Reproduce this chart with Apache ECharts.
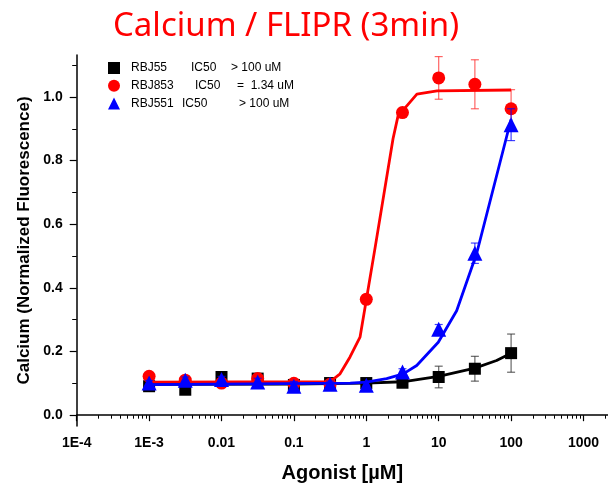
<!DOCTYPE html>
<html>
<head>
<meta charset="utf-8">
<script src="https://cdn.jsdelivr.net/npm/echarts@6/dist/echarts.min.js"></script>
<style>
  html, body { margin: 0; padding: 0; background: #fff; }
  #chart { width: 608px; height: 488px; }
</style>
</head>
<body>
<div id="chart"></div>
<script>
// agonist concentrations (uM)
const doses = [0.001, 0.00316, 0.01, 0.0316, 0.1, 0.316, 1, 3.16, 10, 31.6, 100];

// RBJ55 - mean and error
const rbj55Mean = [0.091, 0.080, 0.120, 0.115, 0.095, 0.101, 0.101, 0.102, 0.120, 0.146, 0.195];
const rbj55Err = [0.005, 0.005, 0.006, 0.006, 0.005, 0.006, 0.008, 0.015, 0.034, 0.039, 0.060];
// RBJ853
const rbj853Mean = [0.122, 0.110, 0.101, 0.115, 0.100, 0.097, 0.364, 0.951, 1.060, 1.040, 0.963];
const rbj853Err = [0.006, 0.006, 0.006, 0.006, 0.006, 0.008, 0.015, 0.010, 0.067, 0.077, 0.060];
// RBJ551
const rbj551Mean = [0.101, 0.110, 0.112, 0.104, 0.091, 0.097, 0.094, 0.136, 0.270, 0.509, 0.913];
const rbj551Err = [0.008, 0.010, 0.010, 0.012, 0.015, 0.010, 0.012, 0.010, 0.015, 0.032, 0.050];

// fitted curves
const fit55X = [0.001, 0.1, 1, 3.16, 10, 31.6, 63, 100];
const fit55Y = [0.097, 0.098, 0.101, 0.105, 0.122, 0.148, 0.172, 0.195];
const fit853X = [0.001, 0.316, 0.434, 0.596, 0.819, 1.32, 2.34, 2.74, 5.0, 9.5, 100];
const fit853Y = [0.104, 0.105, 0.130, 0.183, 0.245, 0.525, 0.869, 0.940, 1.009, 1.019, 1.022];
const fit551X = [0.001, 0.6, 1, 1.91, 3.24, 4.97, 9.87, 17.7, 33.5, 100];
const fit551Y = [0.096, 0.101, 0.104, 0.115, 0.130, 0.156, 0.229, 0.328, 0.509, 0.930];

// ticks
const xTickValues = [0.0001, 0.001, 0.01, 0.1, 1, 10, 100, 1000];
const xTickLabels = ['1E-4', '1E-3', '0.01', '0.1', '1', '10', '100', '1000'];
const yTickValues = [0, 0.2, 0.4, 0.6, 0.8, 1.0];
const yTickLabels = ['0.0', '0.2', '0.4', '0.6', '0.8', '1.0'];
const yMinorValues = [0.1, 0.3, 0.5, 0.7, 0.9, 1.1];

// legend text pieces
const legendNames = ['RBJ55', 'RBJ853', 'RBJ551'];
const legendIC50 = ['> 100 uM', '=  1.34 uM', '> 100 uM'];

const xMinorValues = [];
for (let d = -4; d <= 3; d++) {
  for (let k = 2; k <= 9; k++) {
    xMinorValues.push(k * Math.pow(10, d));
  }
}

const X_MIN = 0.0001, X_MAX = 2180;
const Y_MIN = -0.034, Y_MAX = 1.132;
const font = 'Liberation Sans';

function pairs(xs, ys) {
  return xs.map((x, i) => [x, ys[i]]);
}

function errorSeries(name, means, errs, color, z) {
  return {
    type: 'custom',
    name: name + ' err',
    z: z,
    data: doses.map((d, i) => [d, means[i] - errs[i], means[i] + errs[i]]),
    encode: { x: 0, y: [1, 2] },
    renderItem: function (params, api) {
      const lo = api.coord([api.value(0), api.value(1)]);
      const hi = api.coord([api.value(0), api.value(2)]);
      const w = 4;
      const style = { stroke: color, lineWidth: 1.2, opacity: 0.75 };
      return {
        type: 'group',
        children: [
          { type: 'line', shape: { x1: hi[0], y1: hi[1], x2: lo[0], y2: lo[1] }, style: style },
          { type: 'line', shape: { x1: hi[0] - w, y1: hi[1], x2: hi[0] + w, y2: hi[1] }, style: style },
          { type: 'line', shape: { x1: lo[0] - w, y1: lo[1], x2: lo[0] + w, y2: lo[1] }, style: style }
        ]
      };
    }
  };
}

function fitSeries(name, xs, ys, color, z) {
  return {
    type: 'line',
    name: name + ' fit',
    z: z,
    data: pairs(xs, ys),
    showSymbol: false,
    smooth: false,
    lineStyle: { color: color, width: 2.8 },
    silent: true
  };
}

function pointSeries(name, means, color, symbol, size, z) {
  return {
    type: 'scatter',
    name: name,
    z: z,
    data: pairs(doses, means),
    symbol: symbol,
    symbolSize: size,
    itemStyle: { color: color, opacity: 1 }
  };
}

const chart = echarts.init(document.getElementById('chart'), null, { renderer: 'canvas' });

const option = {
  animation: false,
  backgroundColor: '#fff',
  title: {
    text: 'Calcium / FLIPR (3min)',
    left: 113,
    top: 10,
    padding: 0,
    textStyle: { color: '#ff0000', fontSize: 33, fontWeight: 'normal', fontFamily: 'Noto Sans' }
  },
  legend: {
    orient: 'vertical',
    left: 103,
    top: 57,
    itemWidth: 12,
    itemHeight: 12,
    itemGap: 5.8,
    data: [
      { name: 'RBJ55', icon: 'rect' },
      { name: 'RBJ853', icon: 'circle' },
      { name: 'RBJ551', icon: 'triangle' }
    ],
    formatter: function (name) {
      const i = legendNames.indexOf(name);
      return '{p| }{n' + i + '|' + name + '}{i' + i + '|IC50}{v|' + legendIC50[i] + '}';
    },
    textStyle: {
      fontFamily: font,
      fontSize: 12,
      color: '#000',
      rich: {
        p: { width: 6, fontSize: 12, fontFamily: font },
        n0: { width: 60, fontSize: 12, fontFamily: font, color: '#000' },
        n1: { width: 64, fontSize: 12, fontFamily: font, color: '#000' },
        n2: { width: 51, fontSize: 12, fontFamily: font, color: '#000' },
        i0: { width: 40, fontSize: 12, fontFamily: font, color: '#000' },
        i1: { width: 42, fontSize: 12, fontFamily: font, color: '#000' },
        i2: { width: 57, fontSize: 12, fontFamily: font, color: '#000' },
        v: { fontSize: 12, fontFamily: font, color: '#000' }
      }
    }
  },
  grid: { left: 76.7, right: 0, top: 55, bottom: 58.7, containLabel: false },
  xAxis: [
    {
      type: 'log',
      logBase: 10,
      min: X_MIN,
      max: X_MAX,
      name: 'Agonist [µM]',
      nameLocation: 'middle',
      nameGap: 37,
      nameTextStyle: { fontFamily: font, fontSize: 20, fontWeight: 'bold', color: '#000' },
      axisLine: { lineStyle: { color: '#000', width: 1.5 } },
      axisTick: { customValues: xTickValues, length: 6, lineStyle: { color: '#000', width: 1.2 } },
      axisLabel: {
        customValues: xTickValues,
        margin: 10,
        fontFamily: font,
        fontSize: 14,
        fontWeight: 'bold',
        color: '#000',
        formatter: function (v) {
          const i = xTickValues.findIndex(t => Math.abs(Math.log10(t) - Math.log10(v)) < 1e-6);
          return i >= 0 ? xTickLabels[i] : '';
        }
      },
      splitLine: { show: false }
    },
    {
      type: 'log',
      logBase: 10,
      min: X_MIN,
      max: X_MAX,
      gridIndex: 0,
      position: 'bottom',
      axisLine: { show: false },
      axisTick: { customValues: xMinorValues, length: 3.5, lineStyle: { color: '#000', width: 1 } },
      axisLabel: { show: false },
      splitLine: { show: false }
    }
  ],
  yAxis: [
    {
      type: 'value',
      min: Y_MIN,
      max: Y_MAX,
      name: 'Calcium (Normalized Fluorescence)',
      nameLocation: 'middle',
      nameGap: 44,
      nameTextStyle: { fontFamily: font, fontSize: 17, fontWeight: 'bold', color: '#000' },
      axisLine: { show: true, lineStyle: { color: '#000', width: 1.5 } },
      axisTick: { show: true, customValues: yTickValues, length: 7, lineStyle: { color: '#000', width: 1.2 } },
      axisLabel: {
        customValues: yTickValues,
        margin: 14,
        fontFamily: font,
        fontSize: 14,
        fontWeight: 'bold',
        color: '#000',
        formatter: function (v) {
          const i = yTickValues.findIndex(t => Math.abs(t - v) < 1e-6);
          return i >= 0 ? yTickLabels[i] : '';
        }
      },
      splitLine: { show: false }
    },
    {
      type: 'value',
      min: Y_MIN,
      max: Y_MAX,
      gridIndex: 0,
      position: 'left',
      axisLine: { show: false },
      axisTick: { show: true, customValues: yMinorValues, length: 4.5, lineStyle: { color: '#000', width: 1 } },
      axisLabel: { show: false },
      splitLine: { show: false }
    }
  ],
  series: [
    errorSeries('RBJ55', rbj55Mean, rbj55Err, '#333333', 2),
    fitSeries('RBJ55', fit55X, fit55Y, '#000000', 3),
    pointSeries('RBJ55', rbj55Mean, '#000000', 'rect', 12, 4),
    errorSeries('RBJ853', rbj853Mean, rbj853Err, '#ff3030', 5),
    fitSeries('RBJ853', fit853X, fit853Y, '#ff0000', 6),
    pointSeries('RBJ853', rbj853Mean, '#ff0000', 'circle', 13, 7),
    errorSeries('RBJ551', rbj551Mean, rbj551Err, '#0000ff', 8),
    fitSeries('RBJ551', fit551X, fit551Y, '#0000ff', 9),
    pointSeries('RBJ551', rbj551Mean, '#0000ff', 'triangle', 15, 10)
  ]
};

chart.setOption(option);
</script>
</body>
</html>
